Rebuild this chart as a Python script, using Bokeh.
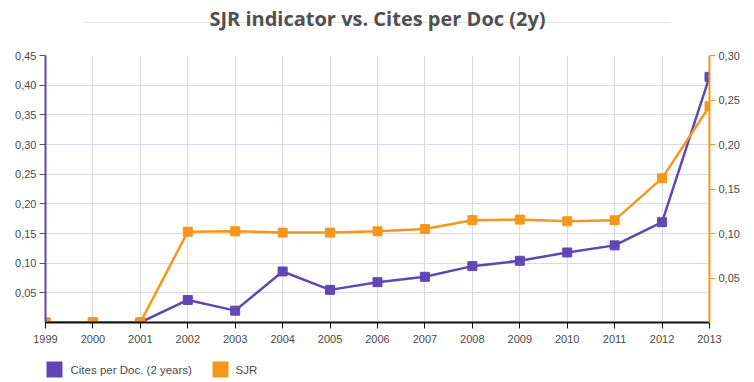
from bokeh.plotting import figure
from bokeh.models import (ColumnDataSource, Range1d, LinearAxis, FixedTicker,
                          CustomJSTickFormatter)
from bokeh.layouts import column
from bokeh.core.properties import value
from bokeh.embed import file_html
from bokeh.resources import INLINE

years = [1999, 2000, 2001, 2002, 2003, 2004, 2005, 2006, 2007, 2008, 2009, 2010, 2011, 2012, 2013]
cites = [0.0, 0.0, 0.0, 0.038, 0.020, 0.086, 0.055, 0.068, 0.077, 0.095, 0.104, 0.118, 0.130, 0.169, 0.414]
sjr = [0.0, 0.0, 0.0, 0.102, 0.1025, 0.101, 0.101, 0.1025, 0.105, 0.115, 0.1156, 0.1137, 0.115, 0.162, 0.243]
left_ticks = [0.05, 0.10, 0.15, 0.20, 0.25, 0.30, 0.35, 0.40, 0.45]
right_ticks = [0.05, 0.10, 0.15, 0.20, 0.25, 0.30]
title_text = "SJR indicator vs. Cites per Doc (2y)"
series_names = ["Cites per Doc. (2 years)", "SJR"]

PURPLE = "#6047b3"
ORANGE = "#f5971c"
GRID = "#d9d7ea"
TXT = "#4a4a4a"
W = 754
ML, MR = 45, 45  # frame margins shared by all strips


def strip(height):
    fig = figure(width=W, height=height, output_backend="svg", toolbar_location=None,
                 x_axis_type=None, y_axis_type=None,
                 x_range=Range1d(ML, W - MR), y_range=Range1d(height, 0),
                 min_border_left=ML, min_border_right=MR, min_border_top=0, min_border_bottom=0)
    fig.outline_line_color = None
    fig.grid.visible = False
    return fig


# ---------- title strip (pixel-like coordinates) ----------
tf = strip(40)
tf.segment(x0=[85], y0=[22], x1=[670], y1=[22], line_color="#e2e2e2", line_width=1)
tf.text(x=[W / 2], y=[18], text=[title_text], text_align="center", text_baseline="alphabetic",
        text_font=value("Open Sans"), text_font_style="bold", text_font_size="20px",
        text_color="#505050")

# ---------- main chart ----------
src = ColumnDataSource(dict(year=years, cites=cites, sjr=sjr))

p = figure(width=W, height=312, output_backend="svg", toolbar_location=None,
           x_range=Range1d(years[0], years[-1]), y_range=Range1d(0, 0.45),
           min_border_left=ML, min_border_right=MR, min_border_top=15, min_border_bottom=30)
p.extra_y_ranges = {"sjr": Range1d(0, 0.30)}
p.outline_line_color = None

fmt = CustomJSTickFormatter(code="return tick.toFixed(2).replace('.', ',');")

xa = p.xaxis[0]
xa.ticker = FixedTicker(ticks=years)
xa.axis_line_color = "#111111"
xa.axis_line_width = 2
xa.major_tick_in = 0
xa.major_tick_out = 6
xa.major_tick_line_color = "#111111"
xa.minor_tick_line_color = None
xa.major_label_text_font = "Liberation Sans"
xa.major_label_text_font_size = "11px"
xa.major_label_text_color = TXT
xa.major_label_standoff = 6

ya = p.yaxis[0]
ya.ticker = FixedTicker(ticks=left_ticks)
ya.formatter = fmt
ya.axis_line_color = PURPLE
ya.axis_line_width = 2
ya.major_tick_in = 0
ya.major_tick_out = 6
ya.major_tick_line_color = "#555555"
ya.minor_tick_line_color = None
ya.major_label_text_font = "Liberation Sans"
ya.major_label_text_font_size = "11px"
ya.major_label_text_color = TXT
ya.major_label_standoff = 3

ra = LinearAxis(y_range_name="sjr", ticker=FixedTicker(ticks=right_ticks), formatter=fmt)
ra.axis_line_color = ORANGE
ra.axis_line_width = 2
ra.major_tick_in = 0
ra.major_tick_out = 6
ra.major_tick_line_color = ORANGE
ra.minor_tick_line_color = None
ra.major_label_text_font = "Liberation Sans"
ra.major_label_text_font_size = "11px"
ra.major_label_text_color = TXT
ra.major_label_standoff = 3
p.add_layout(ra, "right")

p.xgrid.grid_line_color = GRID
p.ygrid.grid_line_color = GRID
p.xgrid.ticker = FixedTicker(ticks=years)
p.ygrid.ticker = FixedTicker(ticks=left_ticks)

p.line("year", "cites", source=src, color=PURPLE, line_width=2.5)
p.scatter("year", "cites", source=src, marker="square", size=9, color=PURPLE)
p.line("year", "sjr", source=src, color=ORANGE, line_width=2.5, y_range_name="sjr")
p.scatter("year", "sjr", source=src, marker="square", size=9, color=ORANGE, y_range_name="sjr")

# ---------- legend strip (pixel-like coordinates) ----------
lf = strip(30)
lf.quad(left=[46, 212], right=[62, 228], top=[9, 9], bottom=[25, 25],
        fill_color=[PURPLE, ORANGE], line_color=None)
lf.text(x=[70, 235], y=[17, 17], text=series_names, text_align="left", text_baseline="middle",
        text_font=value("Liberation Sans"), text_font_size="11.5px", text_color=TXT)

layout = column(tf, p, lf, spacing=0)
open("out.html", "w").write(file_html(layout, INLINE))
